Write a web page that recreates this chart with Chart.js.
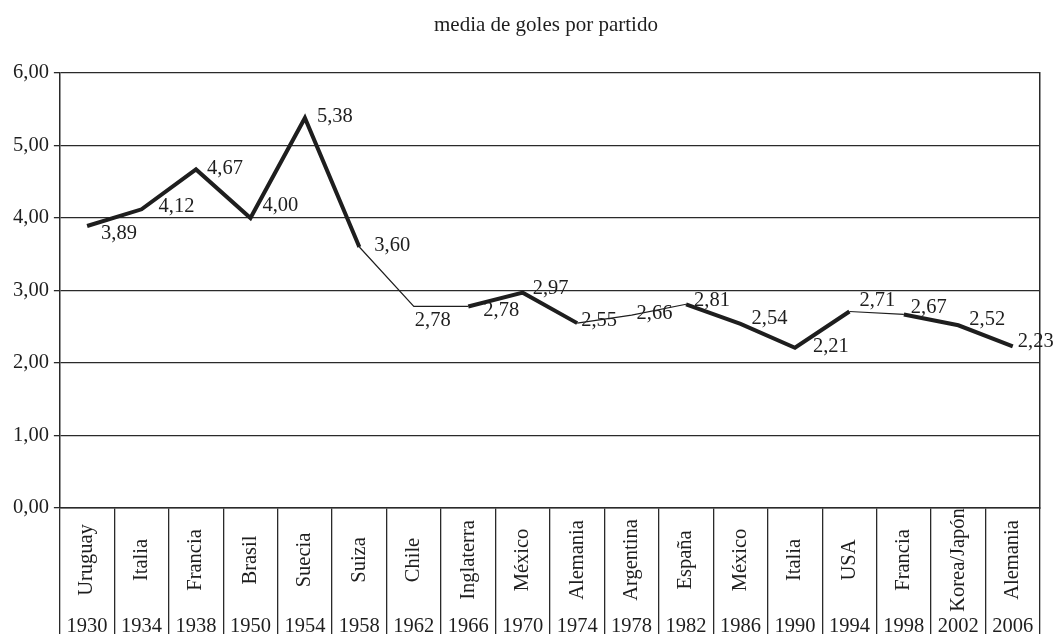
<!DOCTYPE html>
<html>
<head>
<meta charset="utf-8">
<script src="https://cdn.jsdelivr.net/npm/chart.js@4"></script>
<style>
  html, body { margin: 0; padding: 0; background: #fff; }
  #wrap { width: 1054px; height: 634px; }
</style>
</head>
<body>
<div id="wrap"><canvas id="goals-chart"></canvas></div>
<script>
const title = 'media de goles por partido';
const hosts = ['Uruguay', 'Italia', 'Francia', 'Brasil', 'Suecia', 'Suiza', 'Chile', 'Inglaterra', 'México',
    'Alemania', 'Argentina', 'España', 'México', 'Italia', 'USA', 'Francia', 'Korea/Japón', 'Alemania'];
const years = ['1930', '1934', '1938', '1950', '1954', '1958', '1962', '1966', '1970',
    '1974', '1978', '1982', '1986', '1990', '1994', '1998', '2002', '2006'];
const goalsPerMatch = [3.89, 4.12, 4.67, 4.00, 5.38, 3.60, 2.78, 2.78, 2.97,
    2.55, 2.66, 2.81, 2.54, 2.21, 2.71, 2.67, 2.52, 2.23];

// styling only: which segments are drawn thin, and where each value label sits
const thinSegments = [5, 6, 9, 10, 14];
const labelNudge = [[14, 8], [17, -3], [11, -1], [12, -12], [12, -1], [15, -1], [1, 14], [15, 4], [10, -4],
    [4, -3], [5, -2], [8, -4], [11, -5], [18, -1], [10, -11], [7, -7], [11, -6], [5, -5]];

const FONT = '"Liberation Serif", "Times New Roman", serif';
const INK = '#1e1e1e';

function comma(v) {
    return v.toFixed(2).replace('.', ',');
}

// title, value labels and the two rows of category text
const textPlugin = {
    id: 'textPlugin',
    afterDraw(chart) {
        const ctx = chart.ctx;
        const area = chart.chartArea;
        const xs = chart.scales.x;
        ctx.save();
        ctx.fillStyle = INK;

        ctx.font = '21px ' + FONT;
        ctx.textAlign = 'center';
        ctx.textBaseline = 'alphabetic';
        ctx.fillText(title, (area.left + area.right) / 2 - 4, 31);

        ctx.font = '20.5px ' + FONT;
        const pts = chart.getDatasetMeta(0).data;
        ctx.textAlign = 'left';
        ctx.textBaseline = 'middle';
        pts.forEach((p, i) => {
            ctx.fillText(comma(goalsPerMatch[i]), p.x + labelNudge[i][0], p.y + labelNudge[i][1]);
        });

        hosts.forEach((h, i) => {
            const x = xs.getPixelForValue(i);
            ctx.save();
            ctx.translate(x, 560);
            ctx.rotate(-Math.PI / 2);
            ctx.textAlign = 'center';
            ctx.textBaseline = 'middle';
            ctx.fillText(h, 0, 0);
            ctx.restore();
        });

        ctx.textAlign = 'center';
        ctx.textBaseline = 'alphabetic';
        years.forEach((y, i) => {
            ctx.fillText(y, xs.getPixelForValue(i), 632);
        });
        ctx.restore();
    }
};

new Chart(document.getElementById('goals-chart'), {
    type: 'line',
    data: {
        labels: hosts,
        datasets: [{
            data: goalsPerMatch,
            borderColor: INK,
            borderWidth: 4,
            borderJoinStyle: 'miter',
            pointRadius: 0,
            tension: 0,
            segment: {
                borderWidth: c => thinSegments.includes(c.p0DataIndex) ? 1.2 : 4
            }
        }]
    },
    options: {
        responsive: true,
        maintainAspectRatio: false,
        animation: false,
        layout: { padding: { left: 8, right: 14, top: 73, bottom: 0 } },
        plugins: {
            legend: { display: false },
            tooltip: { enabled: false }
        },
        scales: {
            x: {
                offset: true,
                grid: {
                    offset: true,
                    drawOnChartArea: false,
                    drawTicks: true,
                    tickLength: 126,
                    color: '#2a2a2a',
                    lineWidth: 1.3
                },
                border: { display: true, color: '#2a2a2a', width: 1.5 },
                ticks: { display: false }
            },
            y: {
                min: 0,
                max: 6,
                ticks: {
                    stepSize: 1,
                    padding: 5,
                    color: INK,
                    font: { family: FONT, size: 20.5 },
                    callback: v => comma(v)
                },
                grid: { color: '#2a2a2a', lineWidth: 1.3, tickLength: 6 },
                border: { color: '#2a2a2a', width: 1.5 }
            },
            y2: {
                position: 'right',
                min: 0,
                max: 6,
                ticks: { display: false },
                grid: { drawOnChartArea: false, drawTicks: false },
                border: { color: '#2a2a2a', width: 1.5 }
            }
        }
    },
    plugins: [textPlugin]
});
</script>
</body>
</html>
